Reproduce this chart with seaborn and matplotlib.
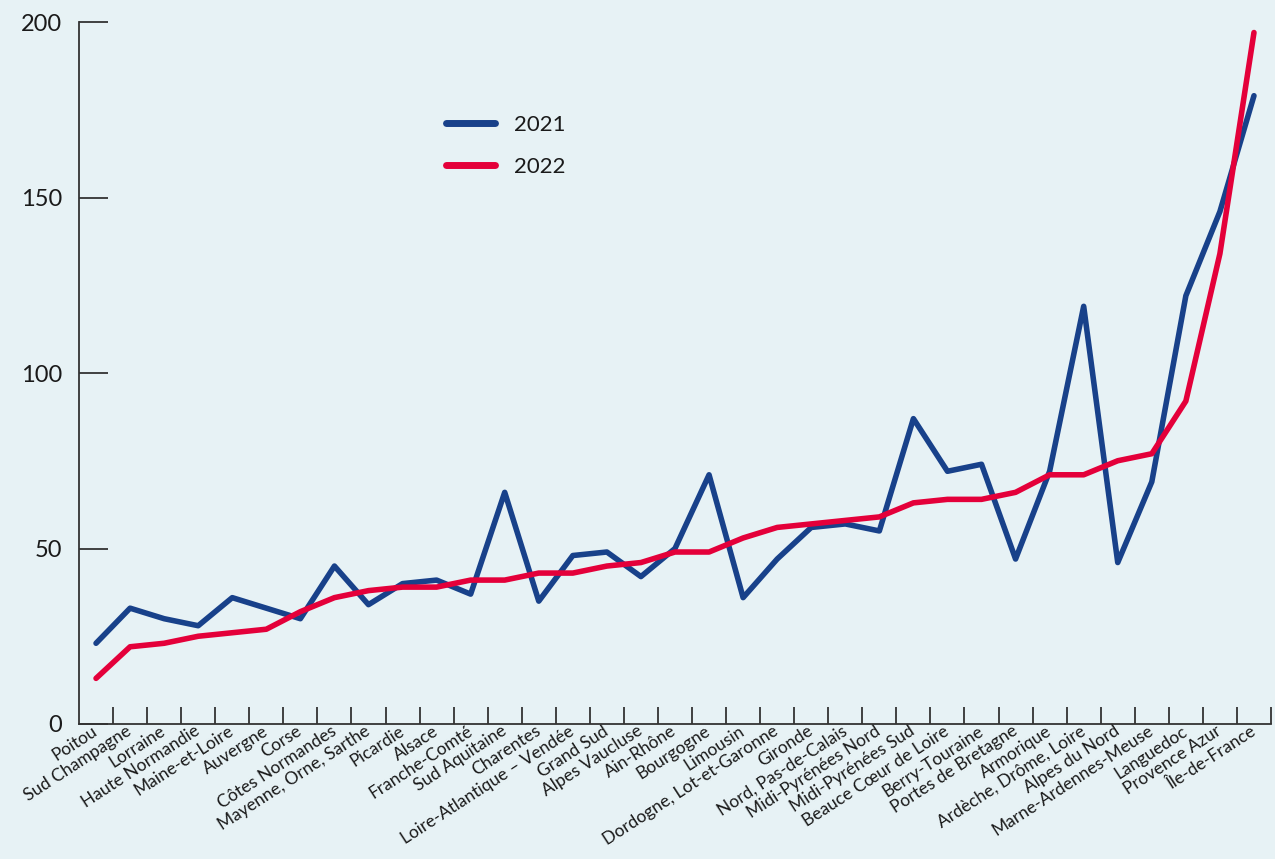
import numpy as np
import pandas as pd
import matplotlib
matplotlib.use("Agg")
import matplotlib.pyplot as plt
from matplotlib.ticker import FixedLocator
import seaborn as sns

regions = ["Poitou", "Sud Champagne", "Lorraine", "Haute Normandie", "Maine-et-Loire",
           "Auvergne", "Corse", "Côtes Normandes", "Mayenne, Orne, Sarthe", "Picardie",
           "Alsace", "Franche-Comté", "Sud Aquitaine", "Charentes", "Loire-Atlantique – Vendée",
           "Grand Sud", "Alpes Vaucluse", "Ain-Rhône", "Bourgogne", "Limousin",
           "Dordogne, Lot-et-Garonne", "Gironde", "Nord, Pas-de-Calais", "Midi-Pyrénées Nord",
           "Midi-Pyrénées Sud", "Beauce Cœur de Loire", "Berry-Touraine", "Portes de Bretagne",
           "Armorique", "Ardèche, Drôme, Loire", "Alpes du Nord", "Marne-Ardennes-Meuse",
           "Languedoc", "Provence Azur", "Île-de-France"]

values_2021 = [23, 33, 30, 28, 36, 33, 30, 45, 34, 40, 41, 37, 66, 35, 48, 49, 42, 50,
               71, 36, 47, 56, 57, 55, 87, 72, 74, 47, 72, 119, 46, 69, 122, 146, 179]
values_2022 = [13, 22, 23, 25, 26, 27, 32, 36, 38, 39, 39, 41, 41, 43, 43, 45, 46, 49,
               49, 53, 56, 57, 58, 59, 63, 64, 64, 66, 71, 71, 75, 77, 92, 134, 197]

years = ["2021", "2022"]
colors = {"2021": "#18418A", "2022": "#E4003A"}
y_ticks = [0, 50, 100, 150, 200]

df = pd.concat([
    pd.DataFrame({"region": regions, "value": values_2021, "year": "2021"}),
    pd.DataFrame({"region": regions, "value": values_2022, "year": "2022"}),
], ignore_index=True)

sns.set_theme(style="white")
bg = "#E7F2F5"
txt = "#1A1A1A"
plt.rcParams["font.family"] = ["Lato", "DejaVu Sans"]

fig = plt.figure(figsize=(12.75, 8.59), dpi=100, facecolor=bg)
ax = fig.add_axes([79 / 1275, 1 - 724 / 859, (1271 - 79) / 1275, (724 - 22) / 859])
ax.set_facecolor(bg)

sns.lineplot(data=df, x="region", y="value", hue="year", hue_order=years,
             palette=colors, sort=False, linewidth=4.0, ax=ax, legend=True)

n = len(regions)
ax.set_xlim(-0.5, n - 0.5)
ax.set_ylim(0, 200)

# x: labels at centres, tick marks at band boundaries
ax.set_xticks(range(n))
ax.set_xticklabels(regions, rotation=33, ha="right", va="center",
                   rotation_mode="anchor", fontsize=12.5, color=txt)
ax.tick_params(axis="x", which="major", length=0, pad=4)
ax.xaxis.set_minor_locator(FixedLocator(np.arange(0.5, n, 1.0)))
ax.tick_params(axis="x", which="minor", direction="in", length=12,
               width=1.3, color="#333333", bottom=True)

ax.set_yticks(y_ticks)
ax.set_yticklabels([str(v) for v in y_ticks], fontsize=17, color=txt)
ax.tick_params(axis="y", which="major", direction="in", length=21,
               width=1.3, color="#333333", pad=12, left=True)

for s in ["top", "right"]:
    ax.spines[s].set_visible(False)
for s in ["left", "bottom"]:
    ax.spines[s].set_color("#333333")
    ax.spines[s].set_linewidth(1.3)

ax.set_xlabel("")
ax.set_ylabel("")

handles, labels = ax.get_legend_handles_labels()
leg = ax.legend(handles, labels, loc="upper left", bbox_to_anchor=(0.308, 0.868),
                frameon=False, fontsize=16, handlelength=2.2, handletextpad=0.85,
                labelspacing=1.0, borderpad=0, borderaxespad=0)
for t in leg.get_texts():
    t.set_color(txt)
for h in leg.get_lines():
    h.set_linewidth(5)

fig.savefig("out.png", dpi=100, facecolor=bg)
